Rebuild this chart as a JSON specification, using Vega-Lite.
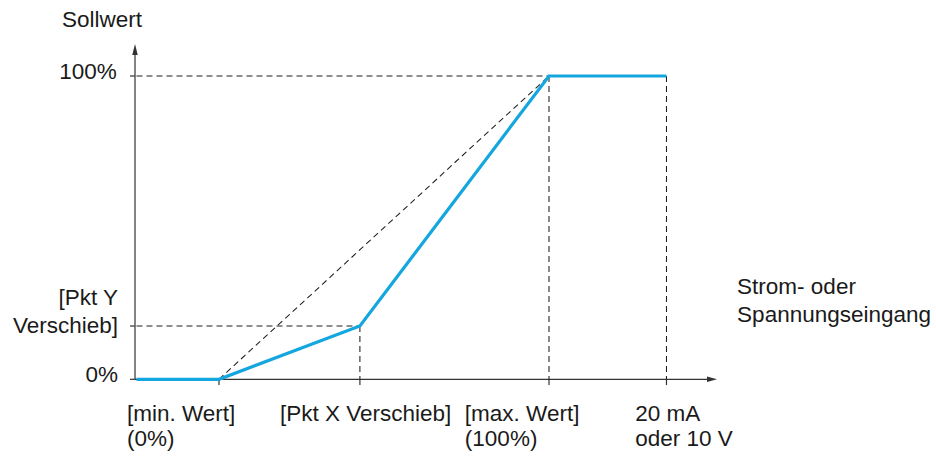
{
  "$schema": "https://vega.github.io/schema/vega-lite/v6.json",
  "width": 936,
  "height": 456,
  "autosize": {"type": "fit", "contains": "padding"},
  "padding": 0,
  "background": "white",
  "config": {"view": {"stroke": null}},
  "datasets": {
    "curve": [
      {"i": 0, "x": -25.0, "y": 0},
      {"i": 1, "x": 0, "y": 0},
      {"i": 2, "x": 42.7, "y": 17.57},
      {"i": 3, "x": 100, "y": 100},
      {"i": 4, "x": 135.6, "y": 100}
    ],
    "dashed": [
      {"x": 0, "y": 0, "x2": 100, "y2": 100},
      {"x": -25.0, "y": 100, "x2": 100, "y2": 100},
      {"x": -25.0, "y": 17.57, "x2": 42.7, "y2": 17.57},
      {"x": 42.7, "y": 17.57, "x2": 42.7, "y2": 0},
      {"x": 100, "y": 100, "x2": 100, "y2": 0},
      {"x": 135.6, "y": 100, "x2": 135.6, "y2": 0}
    ],
    "axes": [
      {"x": -25.45, "y": 0, "x2": 148.0, "y2": 0},
      {"x": -25.45, "y": 0, "x2": -25.45, "y2": 106.9},
      {"x": -26.97, "y": 0, "x2": -25.45, "y2": 0},
      {"x": -26.97, "y": 17.57, "x2": -25.45, "y2": 17.57},
      {"x": -26.97, "y": 100, "x2": -25.45, "y2": 100},
      {"x": 0, "y": 0, "x2": 0, "y2": -1.9},
      {"x": 42.7, "y": 0, "x2": 42.7, "y2": -1.9},
      {"x": 100, "y": 0, "x2": 100, "y2": -1.9},
      {"x": 135.6, "y": 0, "x2": 135.6, "y2": -1.9}
    ],
    "arrows": [
      {"x": 149.4, "y": 0, "dir": "right"},
      {"x": -25.45, "y": 108.7, "dir": "up"}
    ],
    "leftLabels": [
      {"x": -47.58, "y": 116.25, "label": "Sollwert"}
    ],
    "rightLabels": [
      {"x": -31.0, "y": 98.9, "label": "100%"},
      {"x": -30.6, "y": -0.8, "label": "0%"},
      {"x": -30.6, "y": 24.5, "label": "[Pkt Y\nVerschieb]"}
    ],
    "xLabels": [
      {"x": -27.9, "y": -13.65, "label": "[min. Wert]\n(0%)"},
      {"x": 18.5, "y": -13.65, "label": "[Pkt X Verschieb]"},
      {"x": 74.5, "y": -13.65, "label": "[max. Wert]\n(100%)"},
      {"x": 126.1, "y": -13.65, "label": "20 mA\noder 10 V"}
    ],
    "titleX": [
      {"x": 157.0, "y": 28.0, "label": "Strom- oder\nSpannungseingang"}
    ]
  },
  "encoding": {
    "x": {"field": "x", "type": "quantitative", "axis": null, "scale": {"domain": [-66.36, 217.27], "nice": false, "zero": false}},
    "y": {"field": "y", "type": "quantitative", "axis": null, "scale": {"domain": [-25.29, 125.06], "nice": false, "zero": false}}
  },
  "layer": [
    {
      "data": {"name": "axes"},
      "mark": {"type": "rule", "color": "#333333", "strokeWidth": 1.2},
      "encoding": {
        "x2": {"field": "x2"},
        "y2": {"field": "y2"}
      }
    },
    {
      "data": {"name": "dashed"},
      "mark": {"type": "rule", "color": "#1e1e1e", "strokeWidth": 1.05, "strokeDash": [6, 4]},
      "encoding": {
        "x2": {"field": "x2"},
        "y2": {"field": "y2"}
      }
    },
    {
      "data": {"name": "curve"},
      "mark": {"type": "line", "color": "#14A6DE", "strokeWidth": 3.2, "strokeJoin": "miter", "strokeCap": "butt"},
      "encoding": {
        "order": {"field": "i", "type": "quantitative"}
      }
    },
    {
      "data": {"name": "arrows"},
      "transform": [{"filter": "datum.dir == 'right'"}],
      "mark": {"type": "point", "filled": true, "color": "#333333", "opacity": 1, "shape": "M1,0L-1,-0.55L-1,0.55Z", "size": 100}
    },
    {
      "data": {"name": "arrows"},
      "transform": [{"filter": "datum.dir == 'up'"}],
      "mark": {"type": "point", "filled": true, "color": "#333333", "opacity": 1, "shape": "M0,-1L0.5,1L-0.5,1Z", "size": 121}
    },
    {
      "data": {"name": "leftLabels"},
      "mark": {"type": "text", "align": "left", "baseline": "alphabetic", "font": "Liberation Sans", "fontSize": 22.5, "color": "#1a1a1a"},
      "encoding": {"text": {"field": "label"}}
    },
    {
      "data": {"name": "rightLabels"},
      "mark": {"type": "text", "align": "right", "baseline": "alphabetic", "font": "Liberation Sans", "fontSize": 22.5, "color": "#1a1a1a", "lineBreak": "\n", "lineHeight": 28},
      "encoding": {"text": {"field": "label"}}
    },
    {
      "data": {"name": "xLabels"},
      "mark": {"type": "text", "align": "left", "baseline": "alphabetic", "font": "Liberation Sans", "fontSize": 22.5, "color": "#1a1a1a", "lineBreak": "\n", "lineHeight": 25.5},
      "encoding": {"text": {"field": "label"}}
    },
    {
      "data": {"name": "titleX"},
      "mark": {"type": "text", "align": "left", "baseline": "alphabetic", "font": "Liberation Sans", "fontSize": 22.5, "color": "#1a1a1a", "lineBreak": "\n", "lineHeight": 27.5},
      "encoding": {"text": {"field": "label"}}
    }
  ]
}
